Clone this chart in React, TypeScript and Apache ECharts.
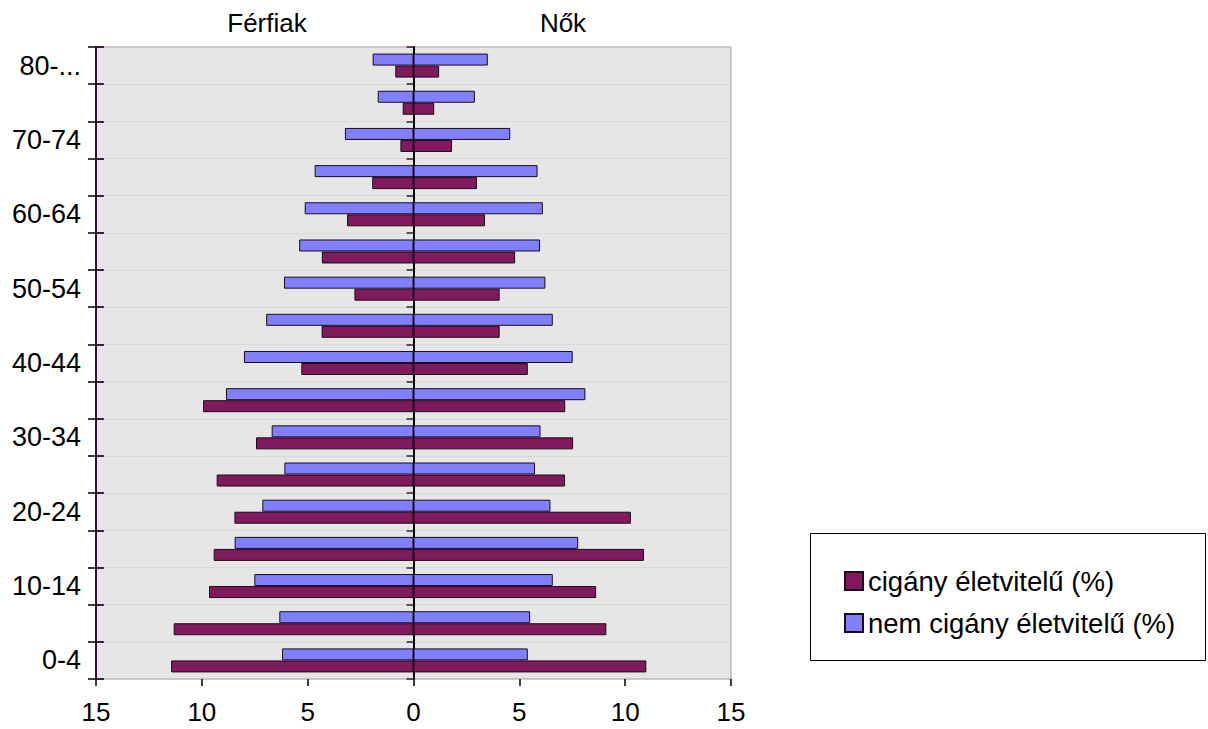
import React, { useEffect, useRef } from "react";
import * as echarts from "echarts";

const categories = ["0-4", "5-9", "10-14", "15-19", "20-24", "25-29", "30-34", "35-39", "40-44", "45-49", "50-54", "55-59", "60-64", "65-69", "70-74", "75-79", "80-..."];

// values in percent
const menRoma = [11.45, 11.33, 9.66, 9.44, 8.46, 9.3, 7.44, 9.94, 5.3, 4.34, 2.79, 4.33, 3.14, 1.95, 0.62, 0.51, 0.86];
const menNonRoma = [6.21, 6.34, 7.52, 8.45, 7.14, 6.1, 6.7, 8.86, 8.01, 6.96, 6.12, 5.4, 5.14, 4.67, 3.24, 1.69, 1.93];
const womenRoma = [11.0, 9.11, 8.63, 10.89, 10.27, 7.16, 7.54, 7.17, 5.4, 4.07, 4.07, 4.8, 3.38, 3.0, 1.82, 0.98, 1.21];
const womenNonRoma = [5.4, 5.51, 6.58, 7.78, 6.47, 5.74, 6.0, 8.12, 7.52, 6.58, 6.23, 5.98, 6.11, 5.86, 4.57, 2.9, 3.51];

const ROMA = "cigány életvitelű (%)";
const NONROMA = "nem cigány életvitelű (%)";
const groupTitles = ["Férfiak", "Nők"];

const FONT = "'Liberation Sans', Arial, sans-serif";
const PURPLE = "#801a5c";
const BLUE = "#8080ff";

export default function App() {
  const ref = useRef<HTMLDivElement>(null);
  useEffect(() => {
    if (!ref.current) return;
    const chart = echarts.init(ref.current, undefined, { renderer: "svg" });
    const catAxisBase = {
      type: "category",
      data: categories,
      boundaryGap: true,
      axisLabel: { show: false },
      splitLine: { show: false },
    };
    const barStyle = (c: string) => ({ color: c, borderColor: "#1a0a1a", borderWidth: 1 });
    chart.setOption({
      animation: false,
      backgroundColor: "#ffffff",
      textStyle: { fontFamily: FONT },
      grid: {
        left: 96,
        right: 477,
        top: 47,
        bottom: 50,
        show: true,
        backgroundColor: "#e6e6e6",
        borderColor: "#a898a8",
        borderWidth: 1,
      },
      xAxis: {
        type: "value",
        min: -15,
        max: 15,
        interval: 5,
        axisLine: { onZero: false, lineStyle: { color: "#5c1450", width: 2 } },
        axisTick: { show: true, length: 7, lineStyle: { color: "#000", width: 1.5 } },
        axisLabel: {
          formatter: (v: number) => String(Math.abs(v)),
          fontSize: 26,
          color: "#000",
          margin: 20,
          fontFamily: FONT,
        },
        splitLine: { show: false },
      },
      yAxis: [
        {
          ...catAxisBase,
          position: "left",
          axisLine: { show: true, onZero: false, lineStyle: { color: "#3d0b35", width: 2 } },
          axisTick: { show: true, interval: 0, length: 8, lineStyle: { color: "#000", width: 1.5 } },
          axisLabel: { show: true, interval: 1, fontSize: 27, color: "#000", margin: 15, fontFamily: FONT },
          splitLine: { show: true, interval: 0, lineStyle: { color: "#cacaca", type: "dotted", width: 1 } },
        },
        {
          ...catAxisBase,
          position: "left",
          axisLine: { show: false, onZero: false },
          axisTick: { show: true, inside: true, interval: 0, length: 8, lineStyle: { color: "#000", width: 1.5 } },
        },
        {
          ...catAxisBase,
          position: "left",
          axisLine: { show: true, onZero: true, lineStyle: { color: "#000", width: 2 } },
          axisTick: { show: true, interval: 0, length: 7, lineStyle: { color: "#3a1a3a", width: 1.5 } },
        },
        {
          ...catAxisBase,
          position: "left",
          axisLine: { show: false, onZero: true },
          axisTick: { show: true, inside: true, interval: 0, length: 7, lineStyle: { color: "#3a1a3a", width: 1.5 } },
        },
      ],
      legend: {
        orient: "vertical",
        left: 839,
        top: 562,
        itemWidth: 18,
        itemHeight: 18,
        itemGap: 14,
        icon: "rect",
        data: [ROMA, NONROMA],
        textStyle: { fontSize: 27.5, color: "#000", fontFamily: FONT },
        selectedMode: false,
      },
      graphic: [
        {
          type: "rect",
          z: 1,
          shape: { x: 810.5, y: 533.5, width: 395, height: 127 },
          style: { fill: "#fff", stroke: "#000", lineWidth: 1 },
        },
        {
          type: "text",
          x: 267,
          y: 23,
          style: { text: groupTitles[0], font: `26px ${FONT}`, fill: "#000", align: "center", verticalAlign: "middle" },
        },
        {
          type: "text",
          x: 563,
          y: 23,
          style: { text: groupTitles[1], font: `26px ${FONT}`, fill: "#000", align: "center", verticalAlign: "middle" },
        },
      ],
      series: [
        {
          name: NONROMA,
          type: "bar",
          stack: "n",
          barWidth: 12,
          barGap: "0%",
          data: menNonRoma.map((v) => -v),
          itemStyle: barStyle(BLUE),
          z: 3,
        },
        {
          name: NONROMA,
          type: "bar",
          stack: "n",
          barWidth: 12,
          barGap: "0%",
          data: womenNonRoma,
          itemStyle: barStyle(BLUE),
          z: 3,
        },
        {
          name: ROMA,
          type: "bar",
          stack: "r",
          barWidth: 12,
          barGap: "0%",
          data: menRoma.map((v) => -v),
          itemStyle: barStyle(PURPLE),
          z: 3,
        },
        {
          name: ROMA,
          type: "bar",
          stack: "r",
          barWidth: 12,
          barGap: "0%",
          data: womenRoma,
          itemStyle: barStyle(PURPLE),
          z: 3,
        },
      ],
    });
    return () => chart.dispose();
  }, []);
  return <div ref={ref} style={{ position: "fixed", left: 0, top: 0, width: 1208, height: 729 }} />;
}
